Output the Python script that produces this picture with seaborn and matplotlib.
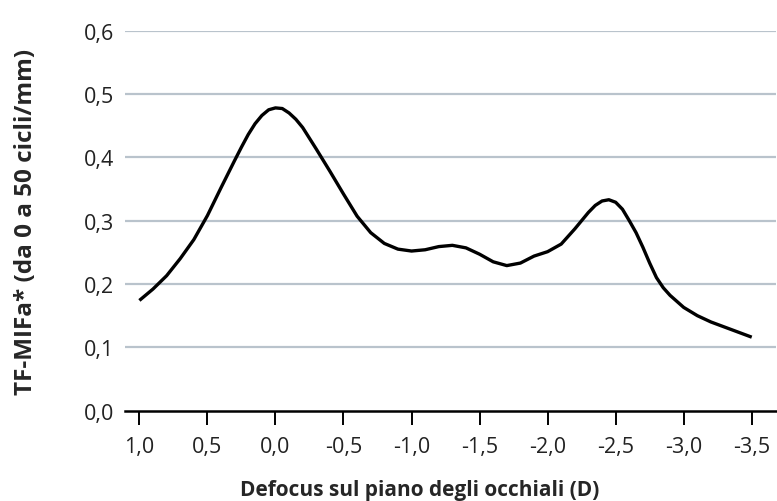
import pandas as pd
import matplotlib.pyplot as plt
from matplotlib.ticker import FuncFormatter
import seaborn as sns

sns.set_style('white')
plt.rcParams['font.family'] = ['Open Sans', 'DejaVu Sans']

# Defocus (D) e TF-MIFa
defocus = [1.0, 0.9, 0.8, 0.7, 0.6, 0.5, 0.4, 0.3, 0.25, 0.2, 0.15, 0.1, 0.05, 0.0,
           -0.05, -0.1, -0.15, -0.2, -0.3, -0.4, -0.5, -0.6, -0.7, -0.8, -0.9, -1.0,
           -1.1, -1.2, -1.3, -1.4, -1.5, -1.6, -1.7, -1.8, -1.9, -2.0,
           -2.1, -2.2, -2.3, -2.35, -2.4, -2.45, -2.5, -2.55, -2.6, -2.65, -2.7,
           -2.75, -2.8, -2.85, -2.9, -3.0, -3.1, -3.2, -3.3, -3.4, -3.5]
tf_mifa = [0.174, 0.192, 0.213, 0.240, 0.270, 0.308, 0.352, 0.395, 0.416, 0.436, 0.453,
           0.466, 0.475, 0.478,
           0.477, 0.470, 0.460, 0.447, 0.413, 0.378, 0.342, 0.307, 0.281, 0.264, 0.255, 0.252,
           0.254, 0.259, 0.261, 0.257, 0.247, 0.235, 0.229, 0.233, 0.244, 0.251,
           0.263, 0.287, 0.313, 0.324, 0.331, 0.333, 0.329, 0.318, 0.300, 0.281, 0.258,
           0.233, 0.210, 0.194, 0.182, 0.163, 0.150, 0.140, 0.132, 0.124, 0.116]

x_ticks = [1.0, 0.5, 0.0, -0.5, -1.0, -1.5, -2.0, -2.5, -3.0, -3.5]
y_ticks = [0.0, 0.1, 0.2, 0.3, 0.4, 0.5, 0.6]

df = pd.DataFrame({'defocus': defocus, 'mtf': tf_mifa})

fig = plt.figure(figsize=(7.77, 5.02), dpi=100)
ax = fig.add_axes([0.161, 0.180, 0.838, 0.757])

# griglia orizzontale
for v in y_ticks[1:]:
    ax.axhline(v, color='#b9c3cc', lw=1.6, zorder=0)

sns.lineplot(data=df, x='defocus', y='mtf', ax=ax, color='black', lw=2.4,
             sort=False, estimator=None, solid_joinstyle='round', solid_capstyle='butt')

ax.set_xlim(1.105, -3.68)
ax.set_ylim(0, 0.6)
ax.set_xticks(x_ticks)
ax.set_yticks(y_ticks)
fmt = FuncFormatter(lambda v, p: f"{v:.1f}".replace('.', ','))
ax.xaxis.set_major_formatter(fmt)
ax.yaxis.set_major_formatter(fmt)

for s in ['left', 'right', 'top']:
    ax.spines[s].set_visible(False)
ax.spines['bottom'].set_linewidth(1.8)
ax.spines['bottom'].set_color('black')
ax.spines['bottom'].set_zorder(3)

ax.tick_params(axis='x', bottom=True, direction='out', length=10, width=1.4, color='black',
               pad=8, labelsize=15.5, labelcolor='#222222')
ax.tick_params(axis='y', left=False, length=0, pad=8, labelsize=15.5, labelcolor='#222222')

ax.set_xlabel('Defocus sul piano degli occhiali (D)', fontsize=15, fontweight='bold')
ax.set_ylabel('TF-MIFa* (da 0 a 50 cicli/mm)', fontsize=17.5, fontweight='bold')
ax.xaxis.label.set_va('baseline')
ax.xaxis.set_label_coords(0.453, -0.222)
ax.yaxis.label.set_va('center')
ax.yaxis.set_label_coords(-0.152, 0.5)

fig.savefig('out.png', dpi=100)
